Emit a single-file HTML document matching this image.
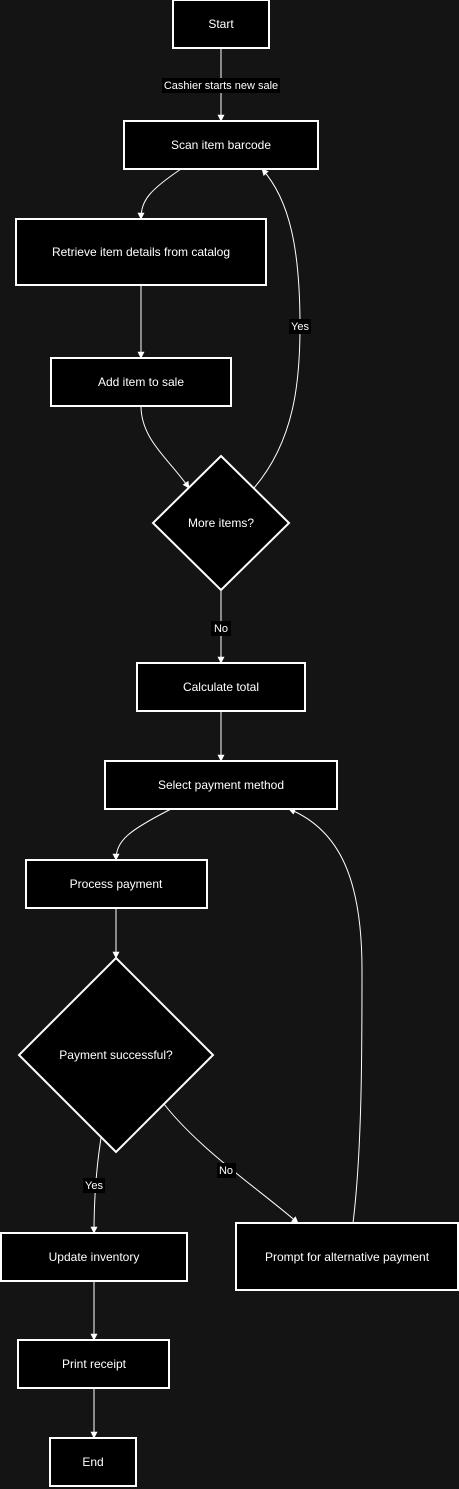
<!DOCTYPE html>
<html><head><meta charset="utf-8"><style>
html,body{margin:0;padding:0;background:#141414;}
svg{display:block;font-family:"Liberation Sans",sans-serif;}
</style></head><body>
<svg width="459" height="1489" viewBox="0 0 459 1489" xmlns="http://www.w3.org/2000/svg">
<defs><marker id="a" viewBox="0 0 10 10" refX="9" refY="5" markerWidth="7" markerHeight="7" orient="auto-start-reverse"><path d="M0,0 L10,5 L0,10 z" fill="#fff"/></marker></defs>
<rect width="459" height="1489" fill="#141414"/>
<g fill="none" stroke="#fff" stroke-width="1" marker-end="url(#a)">
<path d="M221,48 L221,121"/>
<path d="M181,169 C150,190 141,200 141,219"/>
<path d="M141,285 L141,358"/>
<path d="M141,406 C141,440 170,460 189,488"/>
<path d="M254,488 C295,440 300,380 300,326 C300,250 290,200 262,169"/>
<path d="M221,590 L221,663"/>
<path d="M221,711 L221,761"/>
<path d="M171,809 C130,830 116,840 116,860"/>
<path d="M116,908 L116,958"/>
<path d="M101,1138 C96,1170 94,1200 94,1233"/>
<path d="M164,1104 C200,1150 260,1190 298,1223"/>
<path d="M353,1223 C362,1150 362,1050 362,970 C362,880 340,830 289,809"/>
<path d="M94,1281 L94,1340"/>
<path d="M94,1388 L94,1438"/>
</g>
<g fill="#000" stroke="#fff" stroke-width="2">
<rect x="173" y="0" width="96" height="48"/>
<rect x="124" y="121" width="194" height="48"/>
<rect x="16" y="219" width="250" height="66"/>
<rect x="51" y="358" width="180" height="48"/>
<polygon points="221,456 289,523 221,590 153,523"/>
<rect x="137" y="663" width="168" height="48"/>
<rect x="105" y="761" width="232" height="48"/>
<rect x="26" y="860" width="181" height="48"/>
<polygon points="116,958 213,1055 116,1152 19,1055"/>
<rect x="1" y="1233" width="186" height="48"/>
<rect x="236" y="1223" width="222" height="67"/>
<rect x="18" y="1340" width="151" height="48"/>
<rect x="50" y="1438" width="86" height="48"/>
</g>
<g fill="#000">
<rect x="162" y="78" width="118" height="15"/>
<rect x="289" y="319" width="22" height="15"/>
<rect x="211" y="621" width="20" height="15"/>
<rect x="83" y="1178" width="22" height="15"/>
<rect x="217" y="1163" width="19" height="15"/>
</g>
<g fill="#fff" font-size="12" text-anchor="middle">
<text x="221" y="28">Start</text>
<text x="221" y="149">Scan item barcode</text>
<text x="141" y="256">Retrieve item details from catalog</text>
<text x="141" y="386">Add item to sale</text>
<text x="221" y="527">More items?</text>
<text x="221" y="691">Calculate total</text>
<text x="221" y="789">Select payment method</text>
<text x="116" y="888">Process payment</text>
<text x="116" y="1059">Payment successful?</text>
<text x="94" y="1261">Update inventory</text>
<text x="347" y="1261">Prompt for alternative payment</text>
<text x="94" y="1368">Print receipt</text>
<text x="93" y="1466">End</text>
</g>
<g fill="#fff" font-size="11" text-anchor="middle">
<text x="221" y="89">Cashier starts new sale</text>
<text x="300" y="330">Yes</text>
<text x="221" y="632">No</text>
<text x="94" y="1189">Yes</text>
<text x="226" y="1174">No</text>
</g>
</svg>
</body></html>
